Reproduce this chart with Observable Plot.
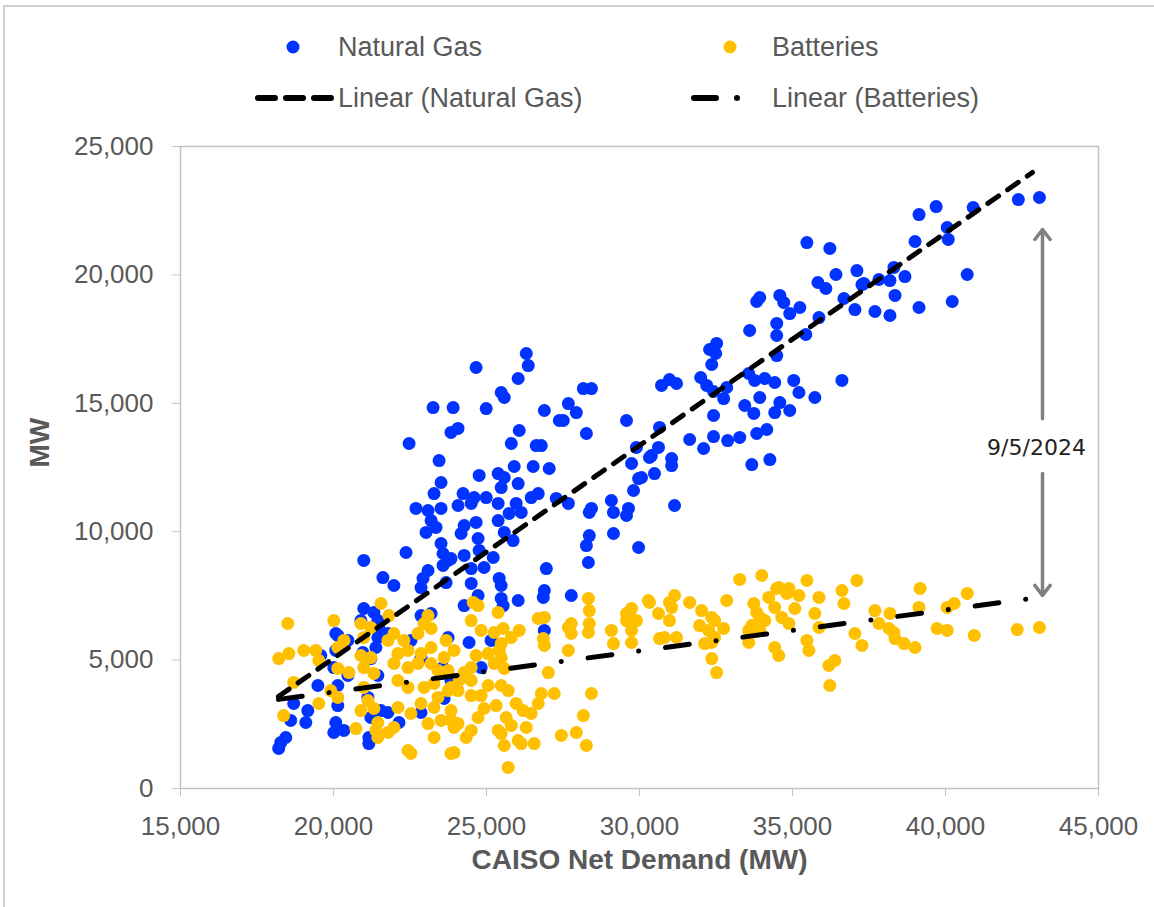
<!DOCTYPE html>
<html><head><meta charset="utf-8">
<script src="https://cdn.jsdelivr.net/npm/d3@7"></script>
<script src="https://cdn.jsdelivr.net/npm/@observablehq/plot@0.6"></script>
<style>
html,body{margin:0;padding:0;background:#fff;}
#wrap{position:relative;width:1154px;height:907px;overflow:hidden;font-family:"Liberation Sans",Arial,sans-serif;}
#border{position:absolute;left:3px;top:5px;width:1170px;height:930px;border:2px solid #d0d0d0;box-sizing:border-box;}
#chart{position:absolute;left:0;top:0;}
#legend{position:absolute;left:0;top:0;width:1154px;height:130px;}
#legend svg{position:absolute;left:0;top:0;}
.lg{position:absolute;font-size:27px;color:#595959;line-height:1;transform:translateY(-50%);white-space:nowrap;}
</style></head>
<body><div id="wrap"><div id="border"></div><div id="chart"></div><div id="legend"></div></div>
<script>
const xTicks = [15000, 20000, 25000, 30000, 35000, 40000, 45000];
const yTicks = [0, 5000, 10000, 15000, 20000, 25000];
const seriesNames = ["Natural Gas", "Batteries"];
const trendNames = ["Linear (Natural Gas)", "Linear (Batteries)"];
const seriesColors = ["#0033ff", "#ffc000"];
const xTitle = "CAISO Net Demand (MW)";
const yTitle = "MW";

// [CAISO net demand MW, MW]
const naturalGas = [
[39135,22350],[39695,22660],[40905,22625],[42380,22935],[43070,23015],[39005,21300],[40055,21845],[40090,21380],[38315,20290],[38675,19935],[37825,19820],[38185,19780],[37335,19665],[38350,19200],[40710,20015],[40220,18965],[39135,18730],[37695,18575],[38185,18420],
[35470,21260],[36220,21030],[36420,20015],[35830,19705],[36090,19470],[37105,20170],[37270,19625],[36680,19080],[37040,18650],[33930,19120],[33830,18965],[34585,19200],[34715,18925],[34910,18495],[35240,18730],[35865,18340],[35435,17680],[34485,18110],[34485,17640],[33600,17835],[32520,17330],[32290,17095],[32490,16940],[32360,16510],[34485,16860],[30720,15695],[30980,15925],[31210,15770],[32000,16005],[32195,15695],[32420,15460],[32750,15185],[32850,15615],[33570,16160],[33765,15890],[34095,15965],[34420,15810],[35040,15890],[36615,15890],[33930,15225],[33440,14915],[33735,14605],[34585,15030],[34420,14640],[34910,14720],[35210,15420],[35730,15225],[32420,14525],[30655,14060],[32420,13705],[31640,13590],[32095,13240],[32880,13550],[33275,13670],[33830,13825],[34160,13980],[30620,13280],[30325,12890],[31050,12850],[31050,12575],[30490,12265],[33670,12615],[34260,12810],[30065,12110],[31145,11020],
[28165,15575],[28430,15575],[27675,14990],[27935,14640],[27510,14330],[26890,14720],[29575,14330],[28265,13825],[29900,13280],[30390,12965],[29740,12655],[26790,13355],[27050,12460],[29970,12070],[29805,11605],[27280,11295],[27675,11100],[28430,10905],[28360,10750],[29080,11215],[29150,10750],[29640,10905],[29575,10630],[28360,9850],[28265,9460],[29150,9930],[29970,9385],[28330,8800],[26955,8565],[26890,7710],[27770,7515],[26890,6155],
[26300,16940],[26365,16470],[24660,16395],[26035,15965],[25480,15420],[25580,15225],[23255,14835],[23910,14835],[24990,14795],[27380,14330],[23840,13865],[24070,14020],[26070,13940],[22470,13435],[25810,13435],[26625,13355],[23450,12770],[25905,12540],[26525,12540],[24760,12190],[25380,12265],[25580,12110],[23515,11915],[25480,11720],[26035,11875],[23285,11485],[24235,11485],[24595,11330],[24990,11330],[26460,11330],[26690,11485],[22695,10905],[23090,10825],[23515,10905],[24070,11020],[24500,11100],[25380,11100],[25970,11100],[26135,10750],[25740,10710],[23190,10435],[25380,10435],[24660,10360],[24270,10240],[23350,10165],[23025,9970],[24170,9930],[25580,9970],[24725,9735],[25870,9655],[23515,9540],[22370,9190],[23580,9150],[24270,9075],[24760,9270],[25220,8995],[23745,8880],[23580,8685],[20990,8880],[24500,8565],[24920,8605],[23090,8490],[21615,8215],[21975,7905],[22925,8180],[25415,8180],[23680,8020],[24500,7985],
[23840,8955],[22860,7825],[20990,7010],[21320,6855],[20895,6540],[21450,6540],[22860,6735],[23190,6815],[20140,5960],[21450,5880],[21385,5490],[22530,5765],[23745,5880],[20075,5375],[19585,5180],[20960,5295],[20010,4710],[21220,5060],[22860,5100],[21450,4400],[23580,4710],[20470,4400],[19490,4010],[20140,4010],[23840,4205],[18700,3310],[20140,3230],[21125,3545],[21550,3035],[22860,2960],[23615,3505],[18600,2650],[19095,2570],[20075,2570],[20010,2180],[21220,2765],[22140,2570],[20340,2260],[18440,1985],[18210,1560],[21155,1985],[21155,1750],[21485,6270],[20075,6035],[21780,6035],[20470,5765],[19160,3035],[18275,1790],[21780,2960],
[26855,7440],[26035,7320],[25480,7905],[25480,7400],[25545,7125],[24725,7515],[24270,7125],[24430,5685],[25150,5765],[24825,4710]
];

const batteries = [
[18505,6425],[20010,6540],[20340,5765],[18210,5060],[18540,5255],[19030,5375],[19420,5375],[19520,4985],[20140,5490],[20140,4675],[20500,4515],[18700,4130],[19910,3815],[20140,3545],[19520,3310],[18370,2840],[20730,2335],[20895,6425],[21220,6270],[21550,7205],[21810,6735],[20990,5880],[20895,5180],[21220,5100],[20990,4710],[21320,4480],[20990,3935],[21125,3425],[20895,3035],[21320,3115],[21450,2570],[21385,2260],[21780,2180],[21450,1985],[21975,2375],[21780,5765],[21975,6035],[22300,5765],[22760,6035],[22960,6425],[23090,6735],[23190,6230],[22105,5255],[22435,5375],[22860,5255],[23190,5490],[21975,4870],[22435,4710],[22760,4870],[23190,4870],[23415,4595],[23615,5100],[23745,4595],[22105,4205],[22435,3935],[22960,3935],[23285,4090],[23415,3545],[23745,3815],[22860,3310],[22105,3155],[22530,2920],[23285,3155],[23515,2650],[23090,2530],[23840,2650],[23940,2375],[23285,1985],[22435,1480],[22530,1365],[23840,1365],[24070,3815],[24105,4205],[23680,5765],[23940,5375],
[24565,7245],[24725,7125],[25380,6855],[24500,6540],[24825,6155],[25250,6075],[25545,6230],[25810,5880],[26070,6155],[25480,5645],[25415,5375],[25055,5255],[24660,5180],[25480,5100],[25250,4870],[25580,4675],[24500,4710],[24270,4515],[26690,6620],[26890,6660],[26855,5840],[26890,5570],[27675,6270],[27770,6035],[28330,7400],[28360,6930],[28360,6425],[28330,6075],[27675,5375],[27020,4515],[29080,6155],[29150,5645],[29575,6815],[29740,7010],[29900,6540],[29740,5685],[30290,7320],[23840,3935],[24500,4205],[25055,4010],[25480,4010],[25710,3815],[24500,3620],[24825,3620],[26790,3700],[27215,3700],[25970,3310],[26690,3310],[25315,3230],[24920,3115],[26200,3035],[26460,2920],[23840,3035],[24725,2765],[25645,2765],[28430,3700],[28165,2840],[24070,2530],[25380,2260],[25810,2455],[26300,2375],[24500,2260],[26035,1870],[25480,2140],[24335,1985],[27445,2065],[27935,2180],[26135,1750],[26560,1750],[25580,1675],[28265,1675],[23940,1400],[25710,820],
[33275,8140],[33995,8295],[34550,7825],[34815,7595],[34225,7440],[33735,7205],[34420,7050],[34650,6660],[33930,6660],[33570,6155],[32850,7320],[32455,6540],[31965,6345],[32260,6155],[32750,6230],[32130,5645],[31640,7245],[31145,7515],[30980,7245],[30325,7245],[30620,6815],[30980,6540],[29670,6855],[29575,6540],[29740,6155],[30655,5840],[31210,5880],[27770,6425],
[35470,8100],[37105,8100],[36615,7710],[36680,7205],[34485,7790],[34880,7790],[35210,7515],[33830,6855],[35075,7010],[35865,7440],[35730,6815],[32030,6930],[32360,6660],[31050,7050],[32455,5880],[33670,6345],[34095,6540],[33930,6155],[34880,6425],[35865,6270],[37040,6035],[37270,5570],[37695,6930],[37825,6425],[38155,6230],[30820,5880],[32360,5685],[33570,5685],[34420,5490],[35470,5765],[35535,5375],[34550,5180],[32360,5060],[32520,4515],[36190,4790],[36385,4985],[36220,4010],
[39170,7790],[40710,7595],[39135,7050],[40055,7050],[40285,7205],[38185,6815],[38315,6075],[38350,5840],[38645,5645],[39005,5490],[39725,6230],[40055,6155],[40940,5960],[42345,6190],[43070,6270]
];

// linear trend lines: [demand, MW] at each end
const naturalGasTrend = [[18200, 3580], [42840, 23990]];
const batteriesTrend = [[18200, 3470], [42800, 7400]];

// annotation: gap between the two trends on 9/5/2024
const annotationLabel = "9/5/2024";
const annotationX = 43170;
const annotationTop = 21770;
const annotationBottom = 7520;
const annotationGapTop = 14400;
const annotationGapBottom = 12270;
const annotationTextY = 13280;

const arrows = [
  {x1: annotationX, y1: annotationGapTop, x2: annotationX, y2: annotationTop},
  {x1: annotationX, y1: annotationGapBottom, x2: annotationX, y2: annotationBottom}
];

const gray = "#595959";
const chart = Plot.plot({
  width: 1154,
  height: 907,
  marginLeft: 180,
  marginRight: 56,
  marginTop: 146,
  marginBottom: 119,
  style: {fontFamily: '"Liberation Sans", Arial, sans-serif', background: "transparent", overflow: "visible"},
  x: {domain: [15000, 45000]},
  y: {domain: [0, 25000]},
  marks: [
    Plot.frame({stroke: "#c4c4c4", strokeWidth: 1.5}),
    Plot.axisY({ticks: yTicks, tickFormat: d3.format(","), tickSize: 8, tickPadding: 19, stroke: "#c4c4c4", fill: gray, fontSize: 26, label: null}),
    Plot.axisX({ticks: xTicks, tickFormat: d3.format(","), tickSize: 8, tickPadding: 20, stroke: "#c4c4c4", fill: gray, fontSize: 26, label: null}),
    Plot.dot(naturalGas, {x: d => d[0], y: d => d[1], r: 6.5, fill: seriesColors[0]}),
    Plot.dot(batteries, {x: d => d[0], y: d => d[1], r: 6.5, fill: seriesColors[1]}),
    Plot.line(naturalGasTrend, {x: d => d[0], y: d => d[1], stroke: "#000", strokeWidth: 5, strokeDasharray: "13,11", strokeLinecap: "round"}),
    Plot.line(batteriesTrend, {x: d => d[0], y: d => d[1], stroke: "#000", strokeWidth: 5, strokeDasharray: "24,27,0.1,27", strokeLinecap: "round"}),
    Plot.arrow(arrows, {x1: "x1", y1: "y1", x2: "x2", y2: "y2", stroke: "#808080", strokeWidth: 3.5, headLength: 5.4, headAngle: 75}),
    Plot.text([annotationLabel], {x: annotationX, y: annotationTextY, dx: -6, fontFamily: '"DejaVu Sans", sans-serif', fontSize: 22, fill: "#222"}),
    Plot.text([xTitle], {frameAnchor: "bottom", dy: 80, fontSize: 28, fontWeight: "bold", fill: gray}),
    Plot.text([yTitle], {frameAnchor: "left", dx: -140, rotate: -90, fontSize: 28, fontWeight: "bold", fill: gray})
  ]
});
document.getElementById("chart").appendChild(chart);

// legend
const legend = document.getElementById("legend");
const ns = "http://www.w3.org/2000/svg";
const lsvg = document.createElementNS(ns, "svg");
lsvg.setAttribute("width", 1154); lsvg.setAttribute("height", 130);
legend.appendChild(lsvg);
function add(tag, attrs) { const e = document.createElementNS(ns, tag); for (const k in attrs) e.setAttribute(k, attrs[k]); lsvg.appendChild(e); }
add("circle", {cx: 293, cy: 47, r: 6.5, fill: seriesColors[0]});
add("circle", {cx: 730, cy: 47, r: 6.5, fill: seriesColors[1]});
add("line", {x1: 258, y1: 98, x2: 333, y2: 98, stroke: "#000", "stroke-width": 6, "stroke-dasharray": "17,11", "stroke-linecap": "round"});
add("line", {x1: 694, y1: 98, x2: 716, y2: 98, stroke: "#000", "stroke-width": 6, "stroke-linecap": "round"});
add("circle", {cx: 737, cy: 98, r: 3, fill: "#000"});
const items = [[seriesNames[0], 338, 47], [seriesNames[1], 772, 47], [trendNames[0], 338, 98], [trendNames[1], 772, 98]];
for (const [t, x, y] of items) {
  const s = document.createElement("div");
  s.className = "lg"; s.textContent = t; s.style.left = x + "px"; s.style.top = y + "px";
  legend.appendChild(s);
}
</script>
</body></html>
